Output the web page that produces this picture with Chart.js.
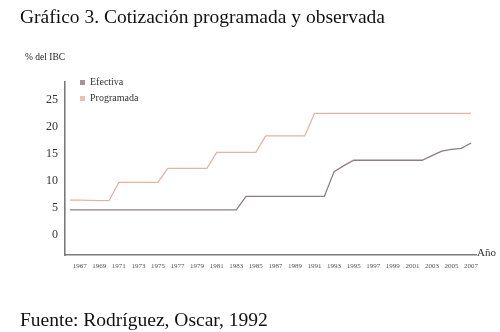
<!DOCTYPE html>
<html>
<head>
<meta charset="utf-8">
<style>
  html, body { margin: 0; padding: 0; background: #fff; }
  #wrap { position: relative; width: 500px; height: 332px; overflow: hidden; }
  #wrap canvas { position: absolute; left: 0; top: 0; }
  .txt { position: absolute; left: 20px; font-family: "Liberation Serif", "Times New Roman", serif; font-size: 19.5px; color: #111; white-space: nowrap; }
  #titulo { top: 6px; }
  #fuente { top: 309px; }
</style>
</head>
<body>
<div id="wrap">
  <canvas id="grafico" width="500" height="332"></canvas>
  <div class="txt" id="titulo">Gráfico 3. Cotización programada y observada</div>
  <div class="txt" id="fuente">Fuente: Rodríguez, Oscar, 1992</div>
</div>
<script src="https://cdn.jsdelivr.net/npm/chart.js@4.4.0/dist/chart.umd.min.js"></script>
<script>
  // años 1966 - 2007
  const anios = [];
  for (let a = 1966; a <= 2007; a++) anios.push(String(a));

  // % del IBC
  const programada = [
    6.4, 6.4, 6.35, 6.3, 6.3,
    9.7, 9.7, 9.7, 9.7, 9.7,
    12.3, 12.3, 12.3, 12.3, 12.3,
    15.25, 15.25, 15.25, 15.25, 15.25,
    18.3, 18.3, 18.3, 18.3, 18.3,
    22.5, 22.5, 22.5, 22.5, 22.5, 22.5, 22.5, 22.5, 22.5,
    22.5, 22.5, 22.5, 22.5, 22.5, 22.5, 22.5, 22.5
  ];
  const efectiva = [
    4.6, 4.6, 4.6, 4.6, 4.6, 4.6, 4.6, 4.6, 4.6, 4.6,
    4.6, 4.6, 4.6, 4.6, 4.6, 4.6, 4.6, 4.6,
    7.1, 7.1, 7.1, 7.1, 7.1, 7.1, 7.1, 7.1, 7.1,
    11.7, 12.8,
    13.8, 13.8, 13.8, 13.8, 13.8, 13.8, 13.8, 13.8,
    14.65, 15.5, 15.8, 16.0, 17.0
  ];
  const yTicks = [0, 5, 10, 15, 20, 25];

  const serif = '"Liberation Serif", "Times New Roman", serif';

  // rótulos de los ejes y leyenda dentro del área
  const extras = {
    id: 'extras',
    afterDraw(chart) {
      const ctx = chart.ctx;
      const area = chart.chartArea;
      ctx.save();
      ctx.fillStyle = '#222';
      ctx.textBaseline = 'middle';
      ctx.font = '9.5px ' + serif;
      ctx.fillText('% del IBC', 25, 57);
      ctx.font = '11px ' + serif;
      ctx.textBaseline = 'alphabetic';
      ctx.fillStyle = '#333';
      ctx.fillText('Año', area.right + 1, area.bottom + 1);
      ctx.textBaseline = 'middle';
      ctx.font = '10px ' + serif;
      chart.data.datasets.forEach((ds, i) => {
        const y = 82.5 + i * 16;
        ctx.fillStyle = ds.legendColor;
        ctx.fillRect(80, y - 2.5, 5, 5);
        ctx.fillStyle = '#333';
        ctx.fillText(ds.label, 90, y);
      });
      ctx.restore();
    }
  };

  new Chart(document.getElementById('grafico'), {
    type: 'line',
    data: {
      labels: anios,
      datasets: [
        {
          label: 'Efectiva',
          data: efectiva,
          borderColor: '#8e7d84',
          legendColor: '#a4939a',
          borderWidth: 1.3,
          pointRadius: 0,
          tension: 0
        },
        {
          label: 'Programada',
          data: programada,
          borderColor: '#e6b3a3',
          legendColor: '#efbfb0',
          borderWidth: 1.3,
          pointRadius: 0,
          tension: 0
        }
      ]
    },
    plugins: [extras],
    options: {
      responsive: false,
      animation: false,
      layout: { padding: { top: 82, right: 24, left: 0, bottom: 0 } },
      plugins: { legend: { display: false }, tooltip: { enabled: false } },
      scales: {
        x: {
          type: 'category',
          offset: true,
          grid: { display: false, drawTicks: false },
          border: { display: true, color: '#7a7a7a', width: 1.6 },
          ticks: {
            autoSkip: false,
            maxRotation: 0,
            padding: 7,
            color: '#555',
            font: { family: serif, size: 7 },
            callback(v, i) {
              const a = Number(anios[i]);
              return a % 2 === 1 ? anios[i] : null;
            }
          },
          afterFit(s) { s.height = 77; }
        },
        y: {
          min: -3.76,
          max: 28.3,
          grid: { display: false, drawTicks: false },
          border: { display: true, color: '#7a7a7a', width: 1.6 },
          ticks: {
            padding: 7,
            color: '#333',
            font: { family: serif, size: 12 }
          },
          afterBuildTicks(s) { s.ticks = yTicks.map(v => ({ value: v })); },
          afterFit(s) { s.width = 65; }
        }
      }
    }
  });
</script>
</body>
</html>
